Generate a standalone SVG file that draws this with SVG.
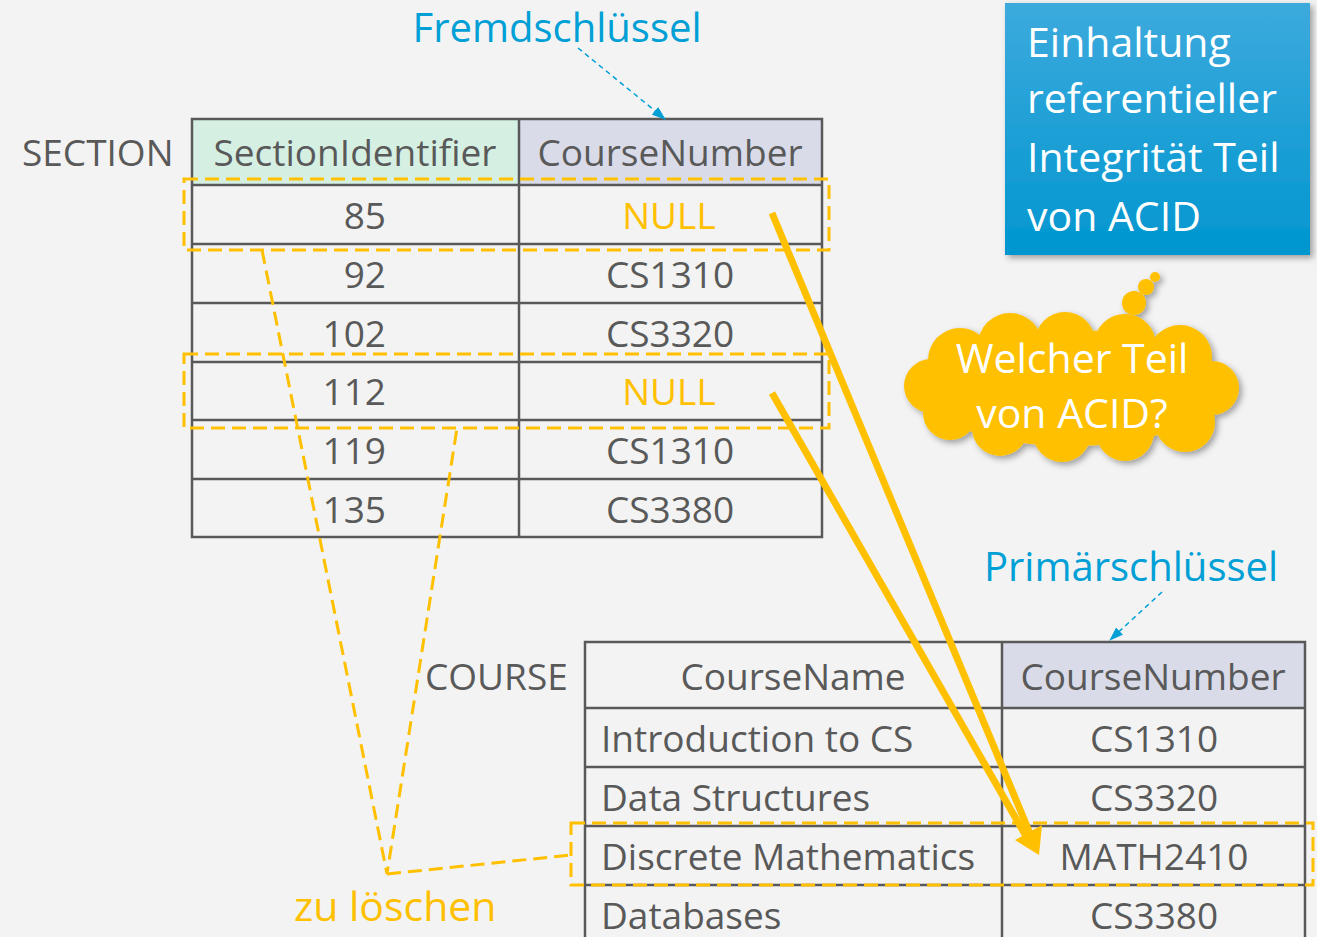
<svg xmlns="http://www.w3.org/2000/svg" width="1317" height="937" viewBox="0 0 1317 937">
<style>
.t{font-family:"Open Sans","Noto Sans","DejaVu Sans",sans-serif;fill:#595959;font-size:37px}
.c{text-anchor:middle}
.r{text-anchor:end}
.y{fill:#ffc000}
.b{fill:#00a0d6;font-size:40px}
.w{fill:#ffffff;font-size:41px}
.grid{stroke:#595959;stroke-width:2.5;fill:none}
.dash{stroke:#ffc000;stroke-width:3;stroke-dasharray:14 7;fill:none}
.arr{stroke:#ffc000;stroke-width:7;fill:none}
.bl{stroke:#00a0d6;stroke-width:1.5;stroke-dasharray:5 4;fill:none}
</style>
<defs>
<linearGradient id="bg" x1="0" y1="0" x2="0" y2="1">
<stop offset="0" stop-color="#3daadd"/>
<stop offset="1" stop-color="#0096cf"/>
</linearGradient>
<filter id="sh" x="-10%" y="-10%" width="125%" height="130%">
<feDropShadow dx="3" dy="3" stdDeviation="3" flood-color="#000" flood-opacity="0.35"/>
</filter>
<marker id="ba" markerWidth="14" markerHeight="10" refX="13" refY="5" orient="auto" markerUnits="userSpaceOnUse">
<path d="M0,0 L14,5 L0,10 z" fill="#00a0d6"/>
</marker>
</defs>
<rect width="1317" height="937" fill="#f3f3f3"/>

<g id="section-table">
<rect x="192" y="119" width="327" height="66" fill="#d5f0e3"/>
<rect x="519" y="119" width="303" height="66" fill="#d9dce8"/>
<rect class="grid" x="192" y="119" width="630" height="418"/>
<path class="grid" d="M519,119V537 M192,185H822 M192,244H822 M192,303H822 M192,362H822 M192,420H822 M192,479H822"/>
<text class="t" x="22" y="166">SECTION</text>
<text class="t c" x="355" y="166">SectionIdentifier</text>
<text class="t c" x="670" y="166">CourseNumber</text>
<text class="t r" x="386" y="229">85</text>
<text class="t c y" x="669" y="229">NULL</text>
<text class="t r" x="386" y="288">92</text>
<text class="t c" x="670" y="288">CS1310</text>
<text class="t r" x="386" y="347">102</text>
<text class="t c" x="670" y="347">CS3320</text>
<text class="t r" x="386" y="405">112</text>
<text class="t c y" x="669" y="405">NULL</text>
<text class="t r" x="386" y="464">119</text>
<text class="t c" x="670" y="464">CS1310</text>
<text class="t r" x="386" y="523">135</text>
<text class="t c" x="670" y="523">CS3380</text>
</g>

<g id="course-table">
<rect x="1002" y="642" width="303" height="66" fill="#d9dce8"/>
<path class="grid" d="M585,937V642H1305V937 M1002,642V937 M585,708H1305 M585,767H1305 M585,826H1305 M585,885H1305"/>
<text class="t" x="425" y="690">COURSE</text>
<text class="t c" x="793" y="690">CourseName</text>
<text class="t c" x="1153" y="690">CourseNumber</text>
<text class="t" x="601" y="752">Introduction to CS</text>
<text class="t c" x="1154" y="752">CS1310</text>
<text class="t" x="601" y="811">Data Structures</text>
<text class="t c" x="1154" y="811">CS3320</text>
<text class="t" x="601" y="870">Discrete Mathematics</text>
<text class="t c" x="1154" y="870">MATH2410</text>
<text class="t" x="601" y="929">Databases</text>
<text class="t c" x="1154" y="929">CS3380</text>
</g>

<g id="fremdschluessel">
<text class="t b" x="557" y="42" text-anchor="middle">Fremdschlüssel</text>
</g>
<g id="primaerschluessel">
<text class="t b" x="1131" y="581" text-anchor="middle">Primärschlüssel</text>
</g>

<g id="acid-box">
<rect x="1005" y="3" width="305" height="252" fill="url(#bg)" filter="url(#sh)"/>
<text class="t w" x="1027" y="57">Einhaltung</text>
<text class="t w" x="1027" y="113">referentieller</text>
<text class="t w" x="1027" y="172">Integrität Teil</text>
<text class="t w" x="1027" y="231">von ACID</text>
</g>

<g id="cloud">
<g fill="#ffc000" filter="url(#sh)">
<circle cx="1134" cy="303" r="12"/>
<circle cx="1146" cy="287" r="8"/>
<circle cx="1155" cy="277" r="5"/>
<ellipse cx="1070" cy="388" rx="150" ry="58"/>
<circle cx="960" cy="360" r="32"/>
<circle cx="1010" cy="345" r="32"/>
<circle cx="1065" cy="342" r="30"/>
<circle cx="1125" cy="345" r="31"/>
<circle cx="1180" cy="357" r="32"/>
<circle cx="1212" cy="388" r="27"/>
<circle cx="1185" cy="422" r="30"/>
<circle cx="1125" cy="432" r="29"/>
<circle cx="1062" cy="433" r="29"/>
<circle cx="1000" cy="428" r="28"/>
<circle cx="950" cy="413" r="27"/>
<circle cx="931" cy="386" r="27"/>
</g>
<text class="t w c" x="1072" y="373">Welcher Teil</text>
<text class="t w c" x="1072" y="428">von ACID?</text>
</g>

<g id="zu-loeschen">
<text class="t y" x="294" y="921" style="font-size:41px">zu löschen</text>
</g>

<g id="connectors">
<rect class="dash" x="184" y="179" width="645" height="71"/>
<rect class="dash" x="184" y="354" width="645" height="74"/>
<rect class="dash" x="571" y="823" width="742" height="62"/>
<path class="dash" d="M262,250 L387,874 L457,428 M387,874 L571,855"/>
<line class="arr" x1="772" y1="213" x2="1031" y2="836"/>
<line class="arr" x1="772" y1="393" x2="1027" y2="838"/>
<polygon points="1039,855 1015,840 1042,825" fill="#ffc000"/>
<line class="bl" x1="578" y1="48" x2="665" y2="119" marker-end="url(#ba)"/>
<line class="bl" x1="1162" y1="592" x2="1110" y2="640" marker-end="url(#ba)"/>
</g>
</svg>
